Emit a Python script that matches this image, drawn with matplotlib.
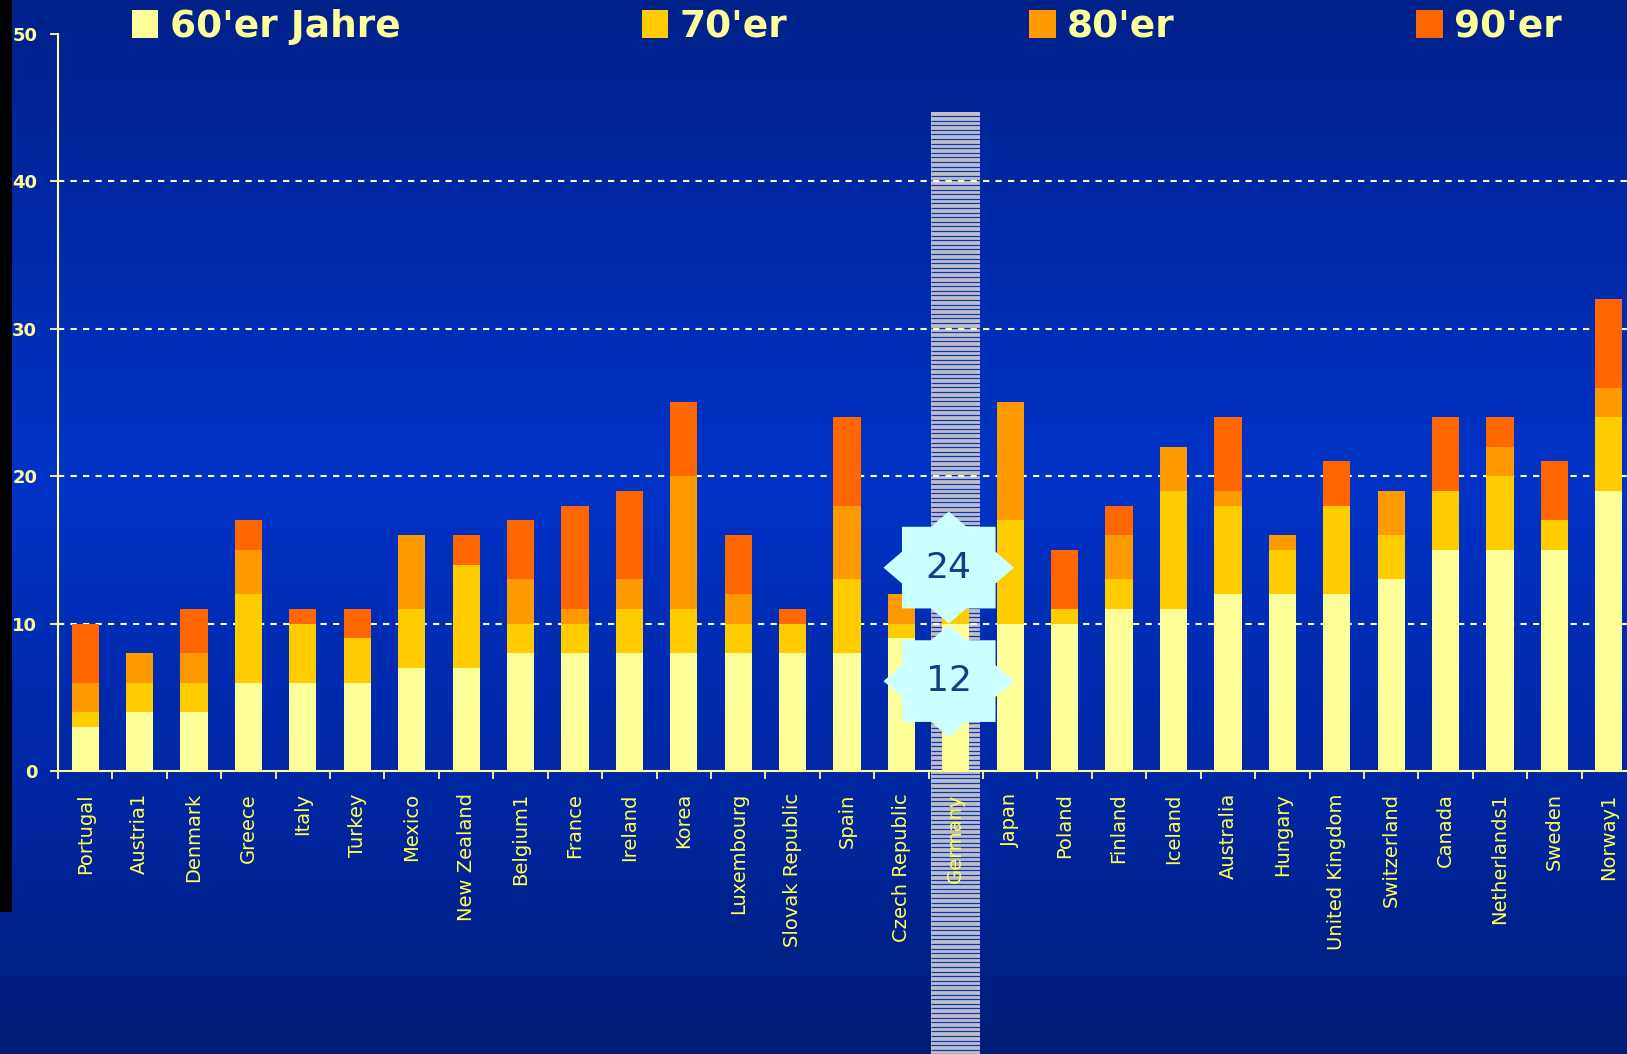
import numpy as np
import matplotlib
matplotlib.use('Agg')
import matplotlib.pyplot as plt
from matplotlib.patches import Rectangle, Polygon
from matplotlib.colors import LinearSegmentedColormap
import matplotlib.transforms as mtransforms

# ---------------- data ----------------
countries = ["Portugal", "Austria1", "Denmark", "Greece", "Italy", "Turkey", "Mexico",
             "New Zealand", "Belgium1", "France", "Ireland", "Korea", "Luxembourg",
             "Slovak Republic", "Spain", "Czech Republic", "Germany", "Japan", "Poland",
             "Finland", "Iceland", "Australia", "Hungary", "United Kingdom", "Switzerland",
             "Canada", "Netherlands1", "Sweden", "Norway1"]
s60 = [3, 4, 4, 6, 6, 6, 7, 7, 8, 8, 8, 8, 8, 8, 8, 9, 10, 10, 10, 11, 11, 12, 12, 12, 13, 15, 15, 15, 19]
s70 = [1, 2, 2, 6, 4, 3, 4, 7, 2, 2, 3, 3, 2, 2, 5, 1, 2, 7, 1, 2, 8, 6, 3, 6, 3, 4, 5, 2, 5]
s80 = [2, 2, 2, 3, 0, 0, 5, 0, 3, 1, 2, 9, 2, 0, 5, 2, 0, 8, 0, 3, 3, 1, 1, 0, 3, 0, 2, 0, 2]
s90 = [4, 0, 3, 2, 1, 2, 0, 2, 4, 7, 6, 5, 4, 1, 6, 0, 0, 0, 4, 2, 0, 5, 0, 3, 0, 5, 2, 4, 6]
series_labels = ["60'er Jahre", "70'er", "80'er", "90'er"]
series_colors = ["#FFFF99", "#FFCC00", "#FF9900", "#FF6600"]
y_ticks = [0, 10, 20, 30, 40, 50]
grid_levels = [10, 20, 30, 40]
highlight = "Germany"
star_texts = ["24", "12"]
star_y = [13.8, 6.1]

# ---------------- figure ----------------
W, H = 1627, 1054
fig = plt.figure(figsize=(W / 100, H / 100), dpi=100)

# background gradient
bg = fig.add_axes([0, 0, 1, 1], zorder=-10)
cmap = LinearSegmentedColormap.from_list(
    "bg", [(0, "#00218A"), (0.45, "#0033C8"), (0.8, "#00259C"), (1, "#001D74")])
grad = np.linspace(0, 1, 512).reshape(-1, 1)
bg.imshow(grad, aspect="auto", cmap=cmap, extent=[0, 1, 0, 1], origin="upper")
bg.add_patch(Rectangle((0, 1 - 912 / H), 12 / W, 912 / H, color="black", lw=0))
bg.set_xlim(0, 1)
bg.set_ylim(0, 1)
bg.axis("off")

left = 58 / W
bottom = 1 - 771 / H
top = 1 - 34 / H
ax_h_px = 771 - 34
ax = fig.add_axes([left, bottom, 1578 / W, top - bottom])
ax.set_facecolor("none")
ax.set_axisbelow(True)

n = len(countries)
x = np.arange(n)
yellow = "#FFFF99"

# highlight stripe behind Germany (grey band with thin blue lines)
gi = countries.index(highlight)
trans = mtransforms.blended_transform_factory(ax.transData, ax.transAxes)
y_top = (771 - 112) / ax_h_px
y_bot = (771 - 1060) / ax_h_px
stripe = Rectangle((gi - 0.45, y_bot), 0.9, y_top - y_bot, transform=trans,
                   facecolor="#C0C0C0", lw=0, clip_on=False, zorder=0.2)
ax.add_patch(stripe)
line_y = np.arange(y_top - 4.0 / ax_h_px, y_bot, -4.6 / ax_h_px)
ax.hlines(line_y, gi - 0.45, gi + 0.45, transform=trans, colors="#0A35C8",
          lw=0.9, clip_on=False, zorder=0.25)

# grid lines
for g in grid_levels:
    ax.axhline(g, color="#FFFFCC", linestyle=(0, (3, 3)), lw=1.5, zorder=0.5)

# stacked bars
series = [s60, s70, s80, s90]
base = np.zeros(n)
handles = []
for vals, col, lab in zip(series, series_colors, series_labels):
    b = ax.bar(x, vals, 0.5, bottom=base, color=col, label=lab, zorder=2, lw=0)
    handles.append(b)
    base = base + np.array(vals)

ax.set_xlim(-0.5, n - 0.5)
ax.set_ylim(0, 50)
ax.set_yticks(y_ticks)
ax.set_yticklabels([str(v) for v in y_ticks], color=yellow, fontsize=13, fontweight="bold")
ax.tick_params(axis="y", colors=yellow, length=6, width=1.3, pad=9, direction="out")

ax.set_xticks(np.arange(-0.5, n, 1))
ax.set_xticklabels([])
ax.set_xticks(x, minor=True)
ax.set_xticklabels(countries, minor=True, rotation=90, color="#FFFF55", fontsize=14,
                   va="top", ha="center")
ax.tick_params(axis="x", which="major", colors=yellow, length=6, width=1.3, direction="out")
ax.tick_params(axis="x", which="minor", length=0, pad=16)

ax.grid(False)
for s in ["top", "right"]:
    ax.spines[s].set_visible(False)
for s in ["left", "bottom"]:
    ax.spines[s].set_color(yellow)
    ax.spines[s].set_linewidth(1.5)

# star annotations
def star_poly(cx, cy, A=1.2, B=3.8, a=0.86, b=2.77):
    y1 = B * (1 - a / A)
    x1 = A * (1 - b / B)
    pts = [(A, 0), (a, y1), (a, b), (x1, b), (0, B), (-x1, b), (-a, b), (-a, y1),
           (-A, 0), (-a, -y1), (-a, -b), (-x1, -b), (0, -B), (x1, -b), (a, -b), (a, -y1)]
    return [(cx + px, cy + py) for px, py in pts]

for txt, yy in zip(star_texts, star_y):
    cx = gi - 0.13
    ax.add_patch(Polygon(star_poly(cx, yy), closed=True, facecolor="#CCFFFF",
                         edgecolor="none", zorder=5, clip_on=False))
    ax.text(cx, yy, txt, ha="center", va="center", fontsize=26, color="#123C8C", zorder=6)

# legend
leg = fig.legend(handles=handles, labels=series_labels, loc="upper left",
                 bbox_to_anchor=(132 / W, 1 - 9 / H), ncol=4, frameon=False,
                 borderpad=0, borderaxespad=0, handlelength=0.7, handleheight=0.75,
                 handletextpad=0.3, columnspacing=6.45,
                 prop={"size": 27, "weight": "bold"}, labelcolor=yellow)

fig.savefig("out.png", dpi=100)
